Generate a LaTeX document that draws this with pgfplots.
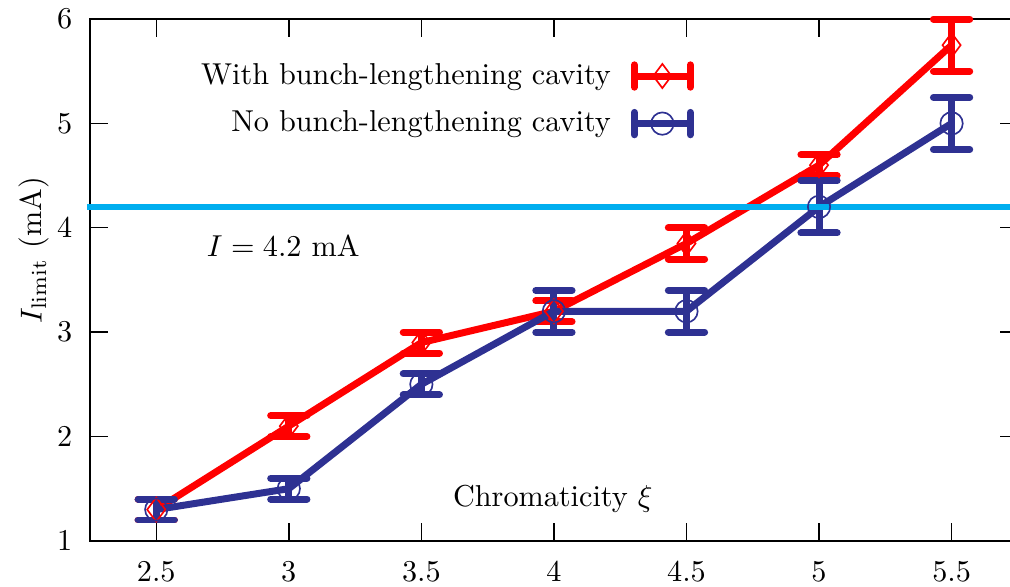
\documentclass[border=0pt]{standalone}
\usepackage{pgfplots}
\pgfplotsset{compat=1.18}
\definecolor{myred}{RGB}{255,0,0}
\definecolor{myblue}{RGB}{46,49,146}
\definecolor{mycyan}{RGB}{0,174,239}
\pgfplotstableread{
x y e
2.5 1.30 0.10
3.0 2.10 0.10
3.5 2.90 0.10
4.0 3.20 0.10
4.5 3.85 0.15
5.0 4.60 0.10
5.5 5.75 0.25
}\withcav
\pgfplotstableread{
x y e
2.5 1.30 0.10
3.0 1.50 0.10
3.5 2.50 0.10
4.0 3.20 0.20
4.5 3.20 0.20
5.0 4.20 0.25
5.5 5.00 0.25
}\nocav
\begin{document}
\begin{tikzpicture}
\begin{axis}[
  scale only axis, width=306.9pt, height=172.6pt,
  xmin=2.25, xmax=5.75, ymin=1, ymax=6,
  xtick={2.5,3,3.5,4,4.5,5,5.5}, ytick={1,2,3,4,5,6},
  tick align=inside, xtick pos=both, ytick pos=both,
  major tick length=5.9pt,
  tick style={black, line width=0.46pt},
  axis line style={line width=0.46pt},
  xticklabel style={yshift=-3.6pt},
  yticklabel style={xshift=-2.3pt},
  clip=false,
  ylabel={$I_{\mathrm{limit}}$ (mA)},
  every axis y label/.style={at={(axis description cs:0,0.557)}, xshift=-18.5pt, rotate=90, anchor=center},
  xlabel={Chromaticity $\xi$},
  every axis x label/.style={at={(axis description cs:0.4988,0.0651)}, anchor=base},
  legend cell align=right,
  legend plot pos=right,
  legend style={draw=none, fill=none, at={(axis cs:4.53,5.64)}, anchor=north east, inner sep=0pt, row sep=3.3pt, column sep=4.6pt},
  legend image code/.code={
    \draw[#1, mark=none, line cap=butt] (0pt,0pt) -- (18.5pt,0pt);
    \draw[#1, mark=none, line cap=round] (0pt,-3.7pt) -- (0pt,3.7pt) (18.5pt,-3.7pt) -- (18.5pt,3.7pt);
    \draw[#1, only marks] plot coordinates {(9.25pt,0pt)};
  },
]
\addplot[myred, line width=2.31pt, mark=diamond, mark size=4pt,
  mark options={line width=0.55pt, solid, fill=none},
  error bars/.cd, y dir=both, y explicit,
  error bar style={line width=2.31pt},
  error mark options={rotate=90, mark size=6pt, line width=2.31pt, line cap=round}]
  table[x=x, y=y, y error=e] {\withcav};
\addlegendentry{With bunch-lengthening cavity}
\addplot[myblue, line width=2.31pt, mark=o, mark size=3.7pt,
  mark options={line width=0.55pt, solid, fill=none},
  error bars/.cd, y dir=both, y explicit,
  error bar style={line width=2.31pt},
  error mark options={rotate=90, mark size=6pt, line width=2.31pt, line cap=round}]
  table[x=x, y=y, y error=e] {\nocav};
\addlegendentry{No bunch-lengthening cavity}
\addplot[mycyan, line width=2.04pt, forget plot] coordinates {(2.24,4.2) (5.75,4.2)};
\node[anchor=base west, inner sep=0pt] at (axis cs:2.689,3.72) {$I = 4.2$ mA};
\end{axis}
\pgfresetboundingbox
\path[use as bounding box] (-29.76pt,-15.21pt) rectangle (304.3pt,178.9pt);
\end{tikzpicture}
\end{document}
